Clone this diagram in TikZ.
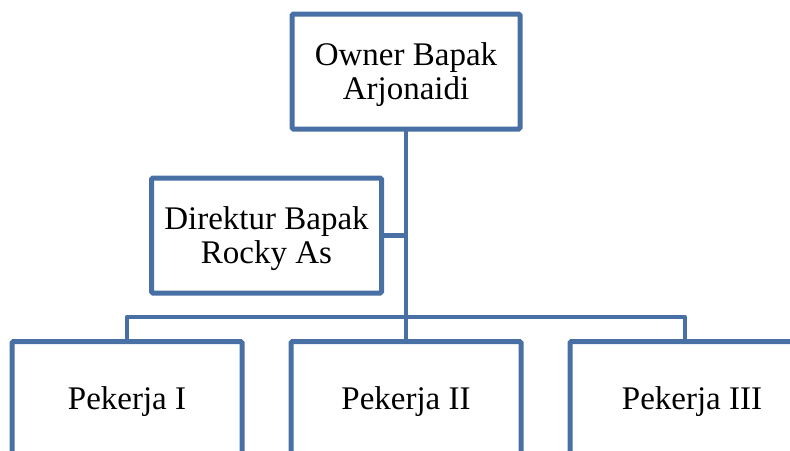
\documentclass[tikz,border=0pt]{standalone}
\usepackage{fontspec}
\setmainfont{Liberation Serif}
\definecolor{orgblue}{RGB}{72,112,164}
\begin{document}
\begin{tikzpicture}[x=1pt,y=-1pt,
  orgbox/.style={draw=orgblue,line width=5pt,rounded corners=1.5pt,fill=white,
    minimum height=115pt,inner sep=0pt},
  orgtext/.style={align=center,inner sep=0pt,yshift=-3pt,
    font=\fontsize{33}{34.5}\selectfont},
  link/.style={draw=orgblue,line width=4.2pt,line join=round}]
\useasboundingbox (0,0) rectangle (790,450);
\clip (0,0) rectangle (790,450);
\coordinate (bar) at (406,317);
% connectors first, boxes drawn over their ends
\path (406,71.5) coordinate (topc) (266.5,235.5) coordinate (dirc)
      (127,399) coordinate (p1c) (406,399) coordinate (p2c) (685,399) coordinate (p3c);
\draw[link] (topc) -- (p2c);
\draw[link] (dirc) -- (dirc -| topc);
\draw[link] (p1c) -- (p1c |- bar) -- (p3c |- bar) -- (p3c);
\node[orgbox,minimum width=228pt,label={[orgtext]center:Owner Bapak\\Arjonaidi}] (top) at (topc) {};
\node[orgbox,minimum width=230pt,label={[orgtext]center:Direktur Bapak\\Rocky As}] (dir) at (dirc) {};
\node[orgbox,minimum width=230pt,label={[orgtext]center:Pekerja I}] (p1) at (p1c) {};
\node[orgbox,minimum width=230pt,label={[orgtext]center:Pekerja II}] (p2) at (p2c) {};
\node[orgbox,minimum width=230pt,label={[orgtext,xshift=7pt]center:Pekerja III}] (p3) at (p3c) {};
\end{tikzpicture}
\end{document}
